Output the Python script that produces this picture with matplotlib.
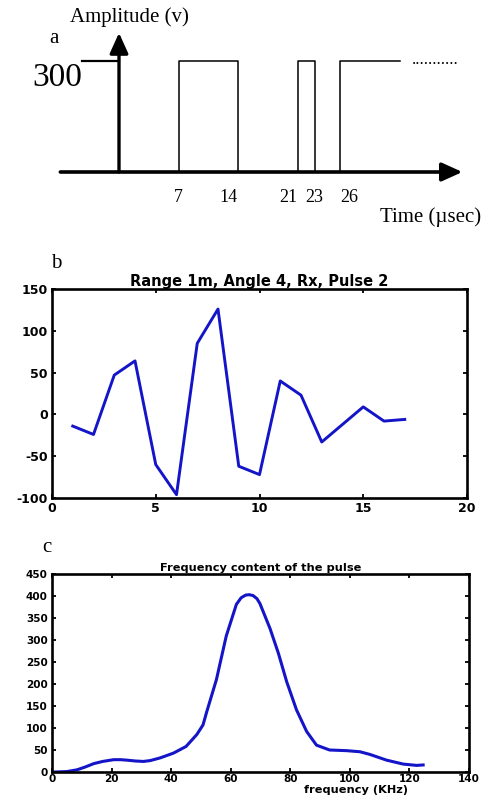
import matplotlib
matplotlib.use('Agg')
import matplotlib.pyplot as plt

# ---- data ----
# panel a: pulse train schematic (time in usec, amplitude in V)
pulse_start = [7, 21, 26]
pulse_end = [14, 23, 33]
amp = 300
lead_in = -4.3
time_ticks = [7, 14, 21, 23, 26]
time_labels = ['7', '14', '21', '23', '26']

# panel b: received pulse
samp = [1, 2, 3, 4, 5, 6, 7, 8, 9, 10, 11, 12, 13, 14, 15, 16, 17]
rx = [-14, -24, 47, 64, -60, -96, 85, 126, -62, -72, 40, 23, -33, -12, 9, -8, -6]

# panel c: spectrum
freq = [1, 5, 8.4, 11, 14, 17, 20.7, 23, 25, 28, 30.7, 33, 36.3, 40.8, 45, 48.6,
        50.7, 52, 55.2, 58.5, 61.9, 63.5, 65, 66.2, 67.5, 68.8, 69.8, 73.2, 76, 78.8, 82.1,
        85.5, 88.8, 93.2, 98.9, 103.4, 106.7, 112.3, 117.9, 122.4, 124.6]
mag = [0, 1, 5, 11, 19, 24, 28, 28, 27, 25, 24, 26, 32, 43, 58, 85,
       107, 138, 210, 309, 381, 396, 402, 403, 401, 394, 383, 326, 270, 205, 141,
       92, 61, 50, 48.5, 46, 40, 27, 18, 15, 16]

blue = '#1414c8'
serif = 'Liberation Serif'

W, H = 487, 796
fig = plt.figure(figsize=(W / 100, H / 100), dpi=100)

# ---------------- panel a ----------------
ax = fig.add_axes([0, 1 - 240 / H, 1, 240 / H])
px_x = 8.5   # pixels per usec
px_y = 0.37  # pixels per volt
ax.set_xlim(-119 / px_x, (W - 119) / px_x)
ax.set_ylim(-(240 - 172) / px_y, 172 / px_y)
ax.axis('off')

head = '-|>,head_length=0.62,head_width=0.28'
ax.annotate('', xy=(40.4, 0), xytext=(-6.9, 0),
            arrowprops=dict(arrowstyle=head, lw=2.6, color='k',
                            shrinkA=0, shrinkB=0, mutation_scale=20))
ax.annotate('', xy=(0, 376), xytext=(0, 0),
            arrowprops=dict(arrowstyle=head, lw=2.4, color='k',
                            shrinkA=0, shrinkB=0, mutation_scale=20))

ax.plot([lead_in, 0], [amp, amp], c='k', lw=1.6)
for i in range(len(pulse_start)):
    s = pulse_start[i]
    e = pulse_end[i]
    if i < len(pulse_start) - 1:
        ax.plot([s, s, e, e], [0, amp, amp, 0], c='k', lw=1.1)
    else:
        ax.plot([s, s, e], [0, amp, amp], c='k', lw=1.1)
ax.text(34.5, 292, '...........', fontsize=12, family=serif, va='baseline')

aligns = ['center', 'right', 'right', 'center', 'left']
for i in range(len(time_ticks)):
    ax.text(time_ticks[i], -68, time_labels[i], fontsize=13, family=serif,
            ha=aligns[i], va='center')
ax.text(-4.3, 232, str(amp), fontsize=24, family=serif, ha='right', va='baseline')
ax.text(-5.8, 419, 'Amplitude (v)', fontsize=15, family=serif, ha='left', va='center')
ax.text(-7.6, 362, 'a', fontsize=15, family=serif, ha='center', va='center')
ax.text(30.7, -122, 'Time (\u00b5sec)', fontsize=15, family=serif, ha='left', va='center')


def matlab_style(a, fs):
    for sp in a.spines.values():
        sp.set_linewidth(1.9)
    a.tick_params(direction='in', top=True, right=True, length=3, width=1.3,
                  labelsize=fs, pad=3)
    for lab in a.get_xticklabels() + a.get_yticklabels():
        lab.set_fontweight('bold')


# ---------------- panel b ----------------
axb = fig.add_axes([52 / W, 1 - 498 / H, 415 / W, 209 / H])
axb.plot(samp, rx, c=blue, lw=2.1)
axb.set_xlim(0, 20)
axb.set_ylim(-100, 150)
axb.set_xticks([0, 5, 10, 15, 20])
axb.set_yticks([-100, -50, 0, 50, 100, 150])
axb.set_yticklabels(['-100', '-50', '0', '50', '100', '150'])
matlab_style(axb, 9)
axb.set_title('Range 1m, Angle 4, Rx, Pulse 2', fontsize=10.5, fontweight='bold', pad=2)
fig.text(56 / W, 1 - 263 / H, 'b', fontsize=15, family=serif, ha='center', va='center')

# ---------------- panel c ----------------
axc = fig.add_axes([52 / W, 1 - 772 / H, 417 / W, 198 / H])
axc.plot(freq, mag, c=blue, lw=2.2, solid_joinstyle='round')
axc.set_xlim(0, 140)
axc.set_ylim(0, 450)
axc.set_xticks(range(0, 141, 20))
axc.set_yticks(range(0, 451, 50))
matlab_style(axc, 7.5)
axc.tick_params(axis='x', pad=1.5)
axc.set_title('Frequency content of the pulse', fontsize=8.2, fontweight='bold', pad=2)
axc.set_xlabel('frequency (KHz)', fontsize=8.2, fontweight='bold')
axc.xaxis.set_label_coords((356 - 52) / 417, -0.066)
fig.text(47 / W, 1 - 548 / H, 'c', fontsize=15, family=serif, ha='center', va='center')

fig.savefig('out.png', dpi=100)
